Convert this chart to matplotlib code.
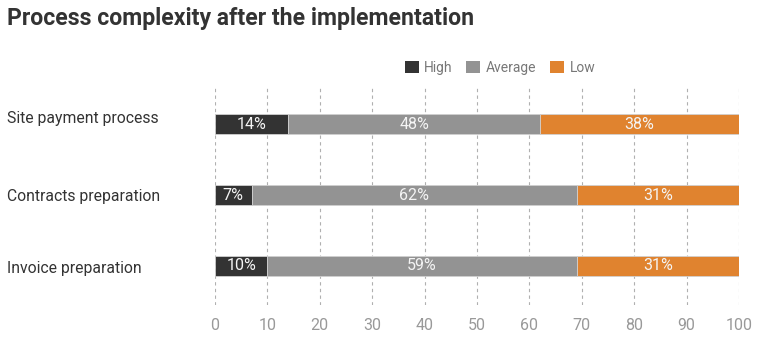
import matplotlib.pyplot as plt
from matplotlib.patches import Patch
from matplotlib.transforms import blended_transform_factory, offset_copy

plt.rcParams['font.family'] = ['Roboto', 'DejaVu Sans']

categories = ["Site payment process", "Contracts preparation", "Invoice preparation"]
series = ["High", "Average", "Low"]
high = [14, 7, 10]
average = [48, 62, 59]
low = [38, 31, 31]
colors = ["#333333", "#939393", "#E0832F"]
xticks = [0, 10, 20, 30, 40, 50, 60, 70, 80, 90, 100]

fig = plt.figure(figsize=(7.68, 3.39), dpi=100)
ax = fig.add_axes([215 / 768, 1 - 305 / 339, 524 / 768, 217 / 339])

y = list(range(len(categories)))
left = [0] * len(categories)
for vals, col in zip([high, average, low], colors):
    bars = ax.barh(y, vals, left=left, height=0.29, color=col,
                   edgecolor="#d0d0d0", linewidth=0.6, zorder=3)
    for b, v in zip(bars, vals):
        ax.text(b.get_x() + b.get_width() / 2, b.get_y() + b.get_height() / 2,
                f"{v}%", color="#f4f4f4", ha="center", va="center",
                fontsize=11.5, zorder=4)
    left = [a + b for a, b in zip(left, vals)]

ax.set_xlim(0, 100)
ax.set_ylim(2.55, -0.51)
ax.set_xticks(xticks)
ax.tick_params(axis="x", length=0, colors="#999999", labelsize=11.5, pad=9)
ax.set_yticks([])
for s in ax.spines.values():
    s.set_visible(False)
ax.grid(axis="x", color="#b0b0b0", linestyle=(0, (3, 3)), linewidth=0.8, zorder=0)

# category labels sit left-aligned at the figure edge
tr = blended_transform_factory(fig.transFigure, ax.transData)
label_shift_px = [6, -1, -2.5]
for i, c in enumerate(categories):
    t = offset_copy(tr, fig=fig, y=label_shift_px[i], units="dots")
    ax.text(7 / 768, i, c, transform=t, fontsize=11.3, color="#333333",
            va="center", ha="left")

handles = [Patch(facecolor=c, edgecolor="none") for c in colors]
fig.legend(handles, series, loc="center", bbox_to_anchor=(500 / 768, 1 - 68 / 339),
           ncol=3, frameon=False, fontsize=10, labelcolor="#777777",
           handlelength=1.0, handleheight=1.0, handletextpad=0.4, columnspacing=1.0)

fig.text(7 / 768, 1 - 18 / 339, "Process complexity after the implementation",
         fontsize=16.6, fontweight="bold", color="#333333", va="center", ha="left")

fig.savefig("out.png", dpi=100, facecolor="white")
